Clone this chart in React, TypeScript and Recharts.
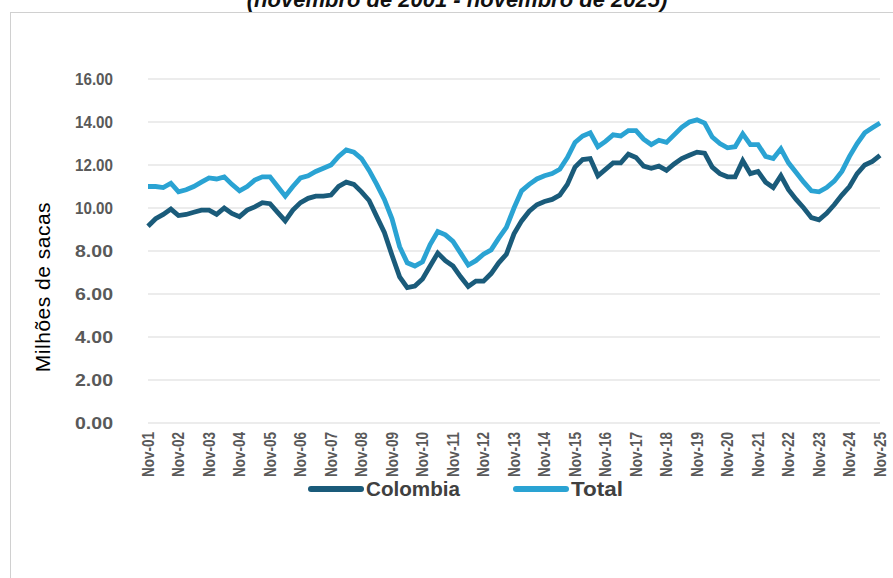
import React from "react";
import { LineChart, Line, XAxis, YAxis, CartesianGrid, Legend } from "recharts";

// quarterly readings, Nov-01 .. Nov-25 (milhões de sacas, 12 meses)
const years = ["01","02","03","04","05","06","07","08","09","10","11","12","13","14","15","16","17","18","19","20","21","22","23","24"];
const quarterMonths = ["Nov", "Feb", "May", "Aug"];

const colombia = [
  9.15, 9.5, 9.7, 9.95,
  9.65, 9.7, 9.8, 9.9,
  9.9, 9.7, 10.0, 9.75,
  9.6, 9.9, 10.05, 10.25,
  10.2, 9.8, 9.4, 9.9,
  10.25, 10.45, 10.55, 10.55,
  10.6, 11.0, 11.2, 11.1,
  10.75, 10.35, 9.6, 8.86,
  7.8, 6.8, 6.3, 6.37,
  6.7, 7.3, 7.9, 7.55,
  7.3, 6.8, 6.35, 6.6,
  6.6, 6.95, 7.45, 7.85,
  8.8, 9.4, 9.85, 10.15,
  10.3, 10.4, 10.6, 11.1,
  11.9, 12.25, 12.3, 11.5,
  11.8, 12.1, 12.1, 12.5,
  12.35, 11.95, 11.85, 11.95,
  11.75, 12.05, 12.3, 12.45,
  12.6, 12.55, 11.9, 11.6,
  11.45, 11.45, 12.2, 11.6,
  11.7, 11.2, 10.95, 11.5,
  10.85, 10.4, 10.0, 9.55,
  9.45, 9.75, 10.15, 10.6,
  11.0, 11.6, 12.0, 12.17,
  12.45,
];

const total = [
  11.0, 11.0, 10.95, 11.15,
  10.75, 10.85, 11.0, 11.2,
  11.4, 11.35, 11.45, 11.1,
  10.8, 11.0, 11.3, 11.45,
  11.45, 11.0, 10.55, 11.0,
  11.4, 11.5, 11.7, 11.85,
  12.0, 12.4, 12.7, 12.6,
  12.3, 11.75, 11.1, 10.4,
  9.5, 8.2, 7.45, 7.3,
  7.5, 8.3, 8.9, 8.75,
  8.45, 7.9, 7.35, 7.55,
  7.85, 8.05, 8.6, 9.1,
  10.0, 10.8, 11.1, 11.35,
  11.5, 11.6, 11.8, 12.35,
  13.05, 13.35, 13.5, 12.85,
  13.1, 13.4, 13.35, 13.6,
  13.6, 13.2, 12.95, 13.15,
  13.05, 13.4, 13.75, 14.0,
  14.1, 13.95, 13.3, 13.0,
  12.8, 12.85, 13.45, 12.95,
  12.95, 12.4, 12.3, 12.75,
  12.1, 11.65, 11.2, 10.8,
  10.75, 10.95, 11.25, 11.7,
  12.4, 13.0, 13.5, 13.73,
  13.95,
];

const yTicks = [0, 2, 4, 6, 8, 10, 12, 14, 16];

const labels: string[] = [];
years.forEach((y, i) => {
  quarterMonths.forEach((m) => {
    const yr = m === "Nov" ? y : String(i + 2).padStart(2, "0");
    labels.push(`${m}-${yr}`);
  });
});
labels.push("Nov-25");
const xTicks = labels.filter((l) => l.startsWith("Nov"));

const data = labels.map((label, i) => ({ label, Colombia: colombia[i], Total: total[i] }));

const DARK = "#1a5b7a";
const LIGHT = "#2aa3d3";
const sans = "'Liberation Sans', Arial, sans-serif";

function XTick(props: any) {
  const { x, payload } = props;
  const y = 432;
  return (
    <text
      x={x}
      y={y}
      transform={`rotate(-90, ${x}, ${y})`}
      textAnchor="end"
      dominantBaseline="central"
      fontFamily={sans}
      fontWeight="bold"
      fontSize={17}
      fill="#595959"
      textLength={45}
      lengthAdjust="spacingAndGlyphs"
    >
      {payload.value}
    </text>
  );
}

function YTick(props: any) {
  const { y, payload } = props;
  return (
    <text
      x={113}
      y={y}
      textAnchor="end"
      dominantBaseline="central"
      fontFamily={sans}
      fontWeight="bold"
      fontSize={17}
      fill="#595959"
      textLength={38}
      lengthAdjust="spacingAndGlyphs"
    >
      {Number(payload.value).toFixed(2)}
    </text>
  );
}

function LegendContent(props: any) {
  const items = props.payload || [];
  const slots = [
    { line: 0, text: 58, len: 94 },
    { line: 205, text: 263, len: 52 },
  ];
  return (
    <svg width={330} height={24} style={{ display: "block" }}>
      {items.map((it: any, i: number) => {
        const s = slots[i] || slots[0];
        return (
          <g key={it.value}>
            <line x1={s.line + 3} x2={s.line + 53} y1={12} y2={12} stroke={it.color} strokeWidth={6} strokeLinecap="round" />
            <text
              x={s.text}
              y={12}
              dominantBaseline="central"
              fontFamily={sans}
              fontWeight="bold"
              fontSize={20}
              fill="#404040"
              textLength={s.len}
              lengthAdjust="spacingAndGlyphs"
            >
              {it.value}
            </text>
          </g>
        );
      })}
    </svg>
  );
}

export default function App() {
  return (
    <div style={{ position: "absolute", left: 0, top: 0, width: 893, height: 578, background: "#fff", overflow: "hidden" }}>
      <div style={{ position: "absolute", left: 10, top: 12, width: 900, height: 580, border: "1px solid #d0d0d0" }} />
      <div
        style={{
          position: "absolute",
          top: -13,
          left: 0,
          width: 914,
          textAlign: "center",
          fontFamily: sans,
          fontWeight: "bold",
          fontStyle: "italic",
          fontSize: 22,
          color: "#111",
        }}
      >
        (novembro de 2001 - novembro de 2025)
      </div>
      <div
        style={{
          position: "absolute",
          left: 43,
          top: 287,
          transform: "translate(-50%, -50%) rotate(-90deg)",
          whiteSpace: "nowrap",
          fontFamily: sans,
          fontSize: 21,
          letterSpacing: 0.5,
          color: "#000",
        }}
      >
        Milhões de sacas
      </div>
      <div style={{ position: "absolute", left: 0, top: 0 }}>
        <LineChart width={893} height={578} data={data} margin={{ top: 79, right: 13, bottom: 0, left: 0 }}>
          <CartesianGrid vertical={false} stroke="#d9d9d9" strokeWidth={1.2} />
          <XAxis
            dataKey="label"
            ticks={xTicks}
            interval={0}
            axisLine={false}
            tickLine={false}
            tick={<XTick />}
            height={131}
          />
          <YAxis
            domain={[0, 16]}
            ticks={yTicks}
            width={148}
            axisLine={false}
            tickLine={false}
            tick={<YTick />}
          />
          <Legend verticalAlign="bottom" content={<LegendContent />} wrapperStyle={{ top: 477, left: 308, width: 330 }} />
          <Line type="linear" dataKey="Colombia" stroke={DARK} strokeWidth={4.8} dot={false} isAnimationActive={false} />
          <Line type="linear" dataKey="Total" stroke={LIGHT} strokeWidth={4.8} dot={false} isAnimationActive={false} />
        </LineChart>
      </div>
    </div>
  );
}
